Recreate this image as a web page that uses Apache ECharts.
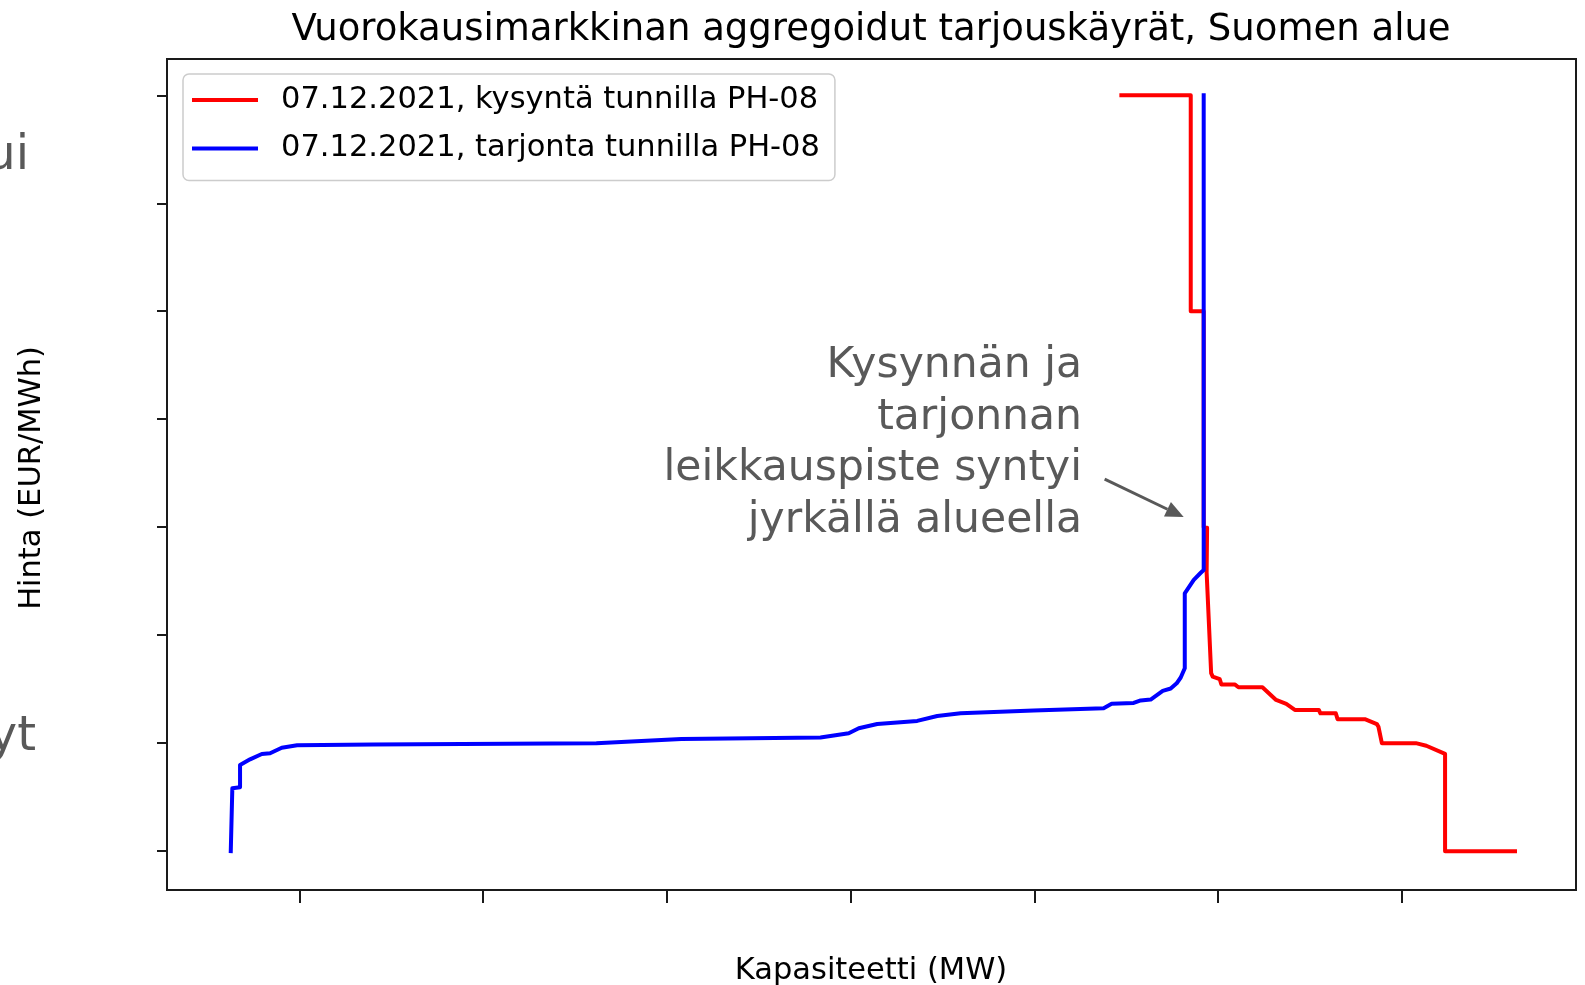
<!DOCTYPE html>
<html><head><meta charset="utf-8">
<script src="https://cdn.jsdelivr.net/npm/echarts@6/dist/echarts.min.js"></script>
<style>html,body{margin:0;padding:0;background:#fff}#c{width:1585px;height:985px}</style>
</head><body><div id="c"></div>
<script>
// Demand curve (red), capacity in MW and price in EUR/MWh
const demandMW  = [10947, 11702, 11702, 11843, 11843, 11880, 11875, 11924, 11941, 12018, 12035, 12181, 12221, 12482, 12631, 12742, 12835, 13096, 13113, 13281, 13300, 13597, 13728, 13745, 13782, 14152, 14266, 14470, 14470, 15231];
const demandEUR = [3000, 3000, 2000, 2000, 1000, 998, 790, 324, 308, 296, 272, 272, 259, 259, 200, 182, 154, 154, 138, 138, 111, 111, 88, 76, 0, 0, -12, -50, -500, -500];
// Supply curve (blue)
const supplyMW  = [1254, 1271, 1355, 1355, 1464, 1592, 1682, 1809, 1976, 2804, 5233, 6158, 7672, 7980, 8089, 8290, 8725, 8943, 9197, 9992, 10754, 10841, 11081, 11157, 11266, 11397, 11484, 11549, 11593, 11637, 11637, 11735, 11811, 11843, 11843];
const supplyEUR = [-500, -209, -204, -101, -75, -50, -47, -21, -10, -6, 0, 19, 26, 46, 69, 89, 103, 126, 138, 151, 162, 182, 186, 198, 202, 242, 253, 277, 304, 347, 694, 756, 789, 802, 3000];

const xTicks = [2000, 4000, 6000, 8000, 10000, 12000, 14000];
const yTicks = [-500, 0, 500, 1000, 1500, 2000, 2500, 3000];
const seriesNames = ['07.12.2021, kysyntä tunnilla PH-08', '07.12.2021, tarjonta tunnilla PH-08'];
const titleText = 'Vuorokausimarkkinan aggregoidut tarjouskäyrät, Suomen alue';
const xName = 'Kapasiteetti (MW)';
const yName = 'Hinta (EUR/MWh)';
const noteLines = ['Kysynnän ja', 'tarjonnan', 'leikkauspiste syntyi', 'jyrkällä alueella'];
const sideTexts = ['ui', 'yt'];
const arrowFrom = [10765, 1223];
const arrowTo = [11625, 1047];

const zip = (xs, ys) => xs.map((x, i) => [x, ys[i]]);
const FONT = 'DejaVu Sans';
const frameColor = '#1a1a1a';

const chart = echarts.init(document.getElementById('c'), null, {renderer: 'canvas'});
chart.setOption({
  animation: false,
  backgroundColor: '#fff',
  grid: {left: 167, top: 59, width: 1409, height: 831, show: true, borderColor: frameColor, borderWidth: 2, backgroundColor: 'transparent'},
  xAxis: {
    type: 'value', min: 560, max: 15895,
    axisLine: {show: false, onZero: false},
    axisTick: {show: true, customValues: xTicks, length: 13, lineStyle: {color: frameColor, width: 2}},
    axisLabel: {show: false},
    splitLine: {show: false}
  },
  yAxis: {
    type: 'value', min: -680, max: 3168,
    axisLine: {show: false, onZero: false},
    axisTick: {show: true, customValues: yTicks, length: 10, lineStyle: {color: frameColor, width: 2}},
    axisLabel: {show: false},
    splitLine: {show: false}
  },
  legend: {
    orient: 'vertical', left: 183, top: 74,
    padding: [8, 15, 14, 9], itemGap: 12.5, itemWidth: 66, itemHeight: 4, icon: 'rect',
    backgroundColor: '#fff', borderColor: '#cccccc', borderWidth: 1.5, borderRadius: 6,
    textStyle: {fontFamily: FONT, fontSize: 30.5, color: '#000', lineHeight: 36, padding: [0, 0, 0, 18]},
    data: seriesNames
  },
  series: [
    {name: seriesNames[0], type: 'line', data: zip(demandMW, demandEUR), showSymbol: false, symbol: 'none',
     lineStyle: {color: '#ff0000', width: 4, cap: 'square', join: 'round'}, itemStyle: {color: '#ff0000'}, z: 2},
    {name: seriesNames[1], type: 'line', data: zip(supplyMW, supplyEUR), showSymbol: false, symbol: 'none',
     lineStyle: {color: '#0000ff', width: 4, cap: 'square', join: 'round'}, itemStyle: {color: '#0000ff'}, z: 3}
  ]
});

// Annotations
const p0 = chart.convertToPixel({gridIndex: 0}, arrowFrom);
const p1 = chart.convertToPixel({gridIndex: 0}, arrowTo);
const dx = p1[0] - p0[0], dy = p1[1] - p0[1];
const L = Math.sqrt(dx * dx + dy * dy);
const ux = dx / L, uy = dy / L;
const headLen = 18, headHalf = 8;
const bx = p1[0] - ux * headLen, by = p1[1] - uy * headLen;
const grey = '#595959';

const graphics = [
  {type: 'text', x: 871, y: 30, style: {text: titleText, fontFamily: FONT, fontSize: 37, fill: '#000', align: 'center', verticalAlign: 'middle'}},
  {type: 'text', x: 871, y: 971, style: {text: xName, fontFamily: FONT, fontSize: 30.5, fill: '#000', align: 'center', verticalAlign: 'middle'}},
  {type: 'text', x: 32.5, y: 478, rotation: Math.PI / 2, style: {text: yName, fontFamily: FONT, fontSize: 30.5, fill: '#000', align: 'center', verticalAlign: 'middle'}},
  {type: 'text', x: 29, y: 157, style: {text: sideTexts[0], fontFamily: FONT, fontSize: 48, fill: grey, align: 'right', verticalAlign: 'middle'}},
  {type: 'text', x: 36, y: 738, style: {text: sideTexts[1], fontFamily: FONT, fontSize: 48, fill: grey, align: 'right', verticalAlign: 'middle'}},
  {type: 'line', shape: {x1: p0[0], y1: p0[1], x2: bx, y2: by}, style: {stroke: grey, lineWidth: 3}},
  {type: 'polygon', shape: {points: [[p1[0], p1[1]], [bx - uy * headHalf, by + ux * headHalf], [bx + uy * headHalf, by - ux * headHalf]]}, style: {fill: grey}}
];
noteLines.forEach((t, i) => {
  graphics.push({type: 'text', x: 1082, y: 366 + i * 51.5, style: {text: t, fontFamily: FONT, fontSize: 42.5, fill: grey, align: 'right', verticalAlign: 'middle'}});
});
chart.setOption({graphic: graphics});
</script></body></html>
